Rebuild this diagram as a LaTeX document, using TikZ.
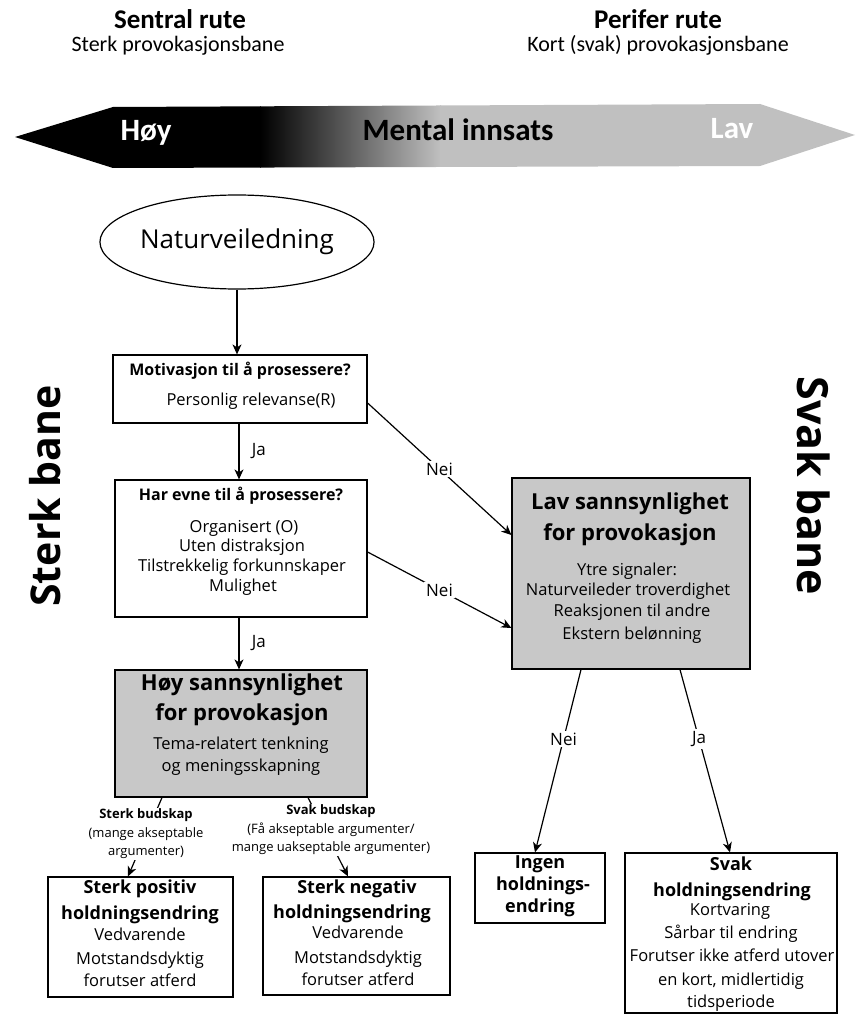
\documentclass[tikz,border=0pt]{standalone}
\usepackage{fontspec}
\setmainfont{Open Sans}
\newfontfamily\calib{Carlito}
\usetikzlibrary{shapes.geometric,arrows.meta}
\definecolor{boxgray}{HTML}{C8C8C8}
\definecolor{bargray}{HTML}{C0C0C0}
\newcommand\fsz[1]{\fontsize{#1}{#1}\selectfont}
\begin{document}
\begin{tikzpicture}[x=1pt,y=-1pt,
  box/.style={draw, line width=1.2pt, inner sep=0pt},
  gbox/.style={box, fill=boxgray},
  ln/.style={inner sep=0pt, text height=0.75em, text depth=0.25em},
  body/.style={ln, font=\fsz{16.5}},
  ttl/.style={ln, font=\bfseries\fsz{16}},
  big/.style={ln, font=\bfseries\fsz{22}},
  res/.style={ln, font=\bfseries\fsz{18}},
  arr/.style={line width=1.2pt, -{Stealth[length=10pt,width=9pt,inset=3pt]}},
  lbl/.style={fill=white, inner sep=2pt, font=\fsz{17}},
  bud/.style={fill=white, inner sep=1pt, align=center, font=\fontsize{13}{18.5}\selectfont},
]
\useasboundingbox (0,0) rectangle (856,1016);

% top headings
\node[ln, font=\calib\bfseries\fsz{27}] (t1) at (180,26) {Sentral rute};
\node[ln, font=\calib\fsz{22}] (t2) at (178,49) {Sterk provokasjonsbane};
\node[ln, font=\calib\bfseries\fsz{27}] (t3) at (658,26) {Perifer rute};
\node[ln, font=\calib\fsz{22}] (t4) at (658,49) {Kort (svak) provokasjonsbane};

% effort bar
\begin{scope}
\clip (15,137) -- (113,107) -- (760,104) -- (855,135) -- (760,166) -- (113,168) -- cycle;
\fill[black] (0,90) rectangle (261,180);
\shade[left color=black, right color=bargray] (260,90) rectangle (441,180);
\fill[bargray] (440,90) rectangle (860,180);
\end{scope}
\node[ln, font=\calib\bfseries\fsz{31}, text=white] (hoy) at (146,138) {Høy};
\node[ln, font=\calib\bfseries\fsz{31}] (mi) at (458,138) {Mental innsats};
\node[ln, font=\calib\bfseries\fsz{31}, text=white] (lav) at (732,136) {Lav};

% side labels
\node[ln, font=\bfseries\fsz{41}, rotate=90] (sterkbane) at (58,496) {Sterk bane};
\node[ln, font=\bfseries\fsz{43}, rotate=-90] (svakbane) at (800,486) {Svak bane};

% start
\node[draw, ellipse, line width=1.2pt, minimum width=270pt, minimum height=94pt, inner sep=0pt, font=\fsz{26}] (nat) at (237,242) {Naturveiledning};

% box 1
\node[box, minimum width=254pt, minimum height=68pt] (b1) at (240,389) {};
\node[ttl] (b1a) at (240,373) {Motivasjon til å prosessere?};
\node[body] (b1b) at (251,403) {Personlig relevanse(R)};

% box 2
\node[box, minimum width=252pt, minimum height=137pt] (b2) at (241,548.5) {};
\node[ttl] (b2a) at (241,498) {Har evne til å prosessere?};
\node[body] (b2b) at (244,530) {Organisert (O)};
\node[body] (b2c) at (242,549) {Uten distraksjon};
\node[body] (b2d) at (242,569) {Tilstrekkelig forkunnskaper};
\node[body] (b2e) at (243,589) {Mulighet};

% box 3
\node[gbox, minimum width=252pt, minimum height=127pt] (b3) at (241,733.5) {};
\node[big] (b3a) at (242,688) {Høy sannsynlighet};
\node[big] (b3b) at (242,718) {for provokasjon};
\node[body] (b3c) at (241,747) {Tema-relatert tenkning};
\node[body] (b3d) at (241,769) {og meningsskapning};

% box 4
\node[gbox, minimum width=238pt, minimum height=191pt] (b4) at (631,573.5) {};
\node[big] (b4a) at (630,507) {Lav sannsynlighet};
\node[big] (b4b) at (630,538) {for provokasjon};
\node[body] (b4c) at (627,573) {Ytre signaler:};
\node[body] (b4d) at (628,593) {Naturveileder troverdighet};
\node[body] (b4e) at (632,614) {Reaksjonen til andre};
\node[body] (b4f) at (632,637) {Ekstern belønning};

% box 5
\node[box, minimum width=185pt, minimum height=120pt] (b5) at (140.5,937) {};
\node[res] (b5a) at (140,891) {Sterk positiv};
\node[res] (b5b) at (140,917) {holdningsendring};
\node[body] (b5c) at (140,938) {Vedvarende};
\node[body] (b5d) at (140,962) {Motstandsdyktig};
\node[body] (b5e) at (140,984) {forutser atferd};

% box 6
\node[box, minimum width=187pt, minimum height=118pt] (b6) at (356.5,936) {};
\node[res] (b6a) at (357,891) {Sterk negativ};
\node[res] (b6b) at (352,916) {holdningsendring};
\node[body] (b6c) at (358,936) {Vedvarende};
\node[body] (b6d) at (358,961) {Motstandsdyktig};
\node[body] (b6e) at (358,983) {forutser atferd};

% box 7
\node[box, minimum width=130pt, minimum height=70pt] (b7) at (540,888) {};
\node[res] (b7a) at (540,866) {Ingen};
\node[res] (b7b) at (543,888) {holdnings-};
\node[res] (b7c) at (540,910) {endring};

% box 8
\node[box, minimum width=212pt, minimum height=160pt] (b8) at (731,933) {};
\node[res] (b8a) at (731,868) {Svak};
\node[res] (b8b) at (732,894) {holdningsendring};
\node[body] (b8c) at (730,913) {Kortvaring};
\node[body] (b8d) at (731,936) {Sårbar til endring};
\node[body] (b8e) at (732,959) {Forutser ikke atferd utover};
\node[body] (b8f) at (731,983) {en kort, midlertidig};
\node[body] (b8g) at (731,1005) {tidsperiode};

% connectors
\draw[arr] (nat.south) -- (nat.south |- b1.north);
\draw[arr] ([xshift=-1pt]b1.south) -- ([xshift=-1pt]b1.south |- b2.north)
  node[midway, anchor=west, xshift=9pt, font=\fsz{17}] (ja1) {Ja};
\draw[arr] ([xshift=-2pt]b2.south) -- ([xshift=-2pt]b2.south |- b3.north)
  node[midway, anchor=west, xshift=9pt, font=\fsz{17}] (ja2) {Ja};
\draw[arr] ([yshift=-14pt]b1.east) -- node[lbl] (nei1) {Nei} ([yshift=38.5pt]b4.west);
\draw[arr] ([yshift=-3.5pt]b2.east) -- node[lbl] (nei2) {Nei} ([yshift=-54.5pt]b4.west);
\draw[arr] ([xshift=-50pt]b4.south) -- node[lbl, pos=0.38] (nei3) {Nei} ([xshift=-5pt]b7.north);
\draw[arr] ([xshift=49pt]b4.south) -- node[lbl, pos=0.38] (ja3) {Ja} ([xshift=-1pt]b8.north);
\draw[arr] ([xshift=-79pt]b3.south) -- ([xshift=-12.5pt]b5.north);
\draw[arr] ([xshift=67pt]b3.south) -- ([xshift=-8.5pt]b6.north);
\node[bud] (sb) at (146,834) {{\bfseries Sterk budskap}\\(mange akseptable\\argumenter)};
\node[bud] (vb) at (331,830) {{\bfseries Svak budskap}\\(Få akseptable argumenter/\\mange uakseptable argumenter)};
\end{tikzpicture}
\end{document}
